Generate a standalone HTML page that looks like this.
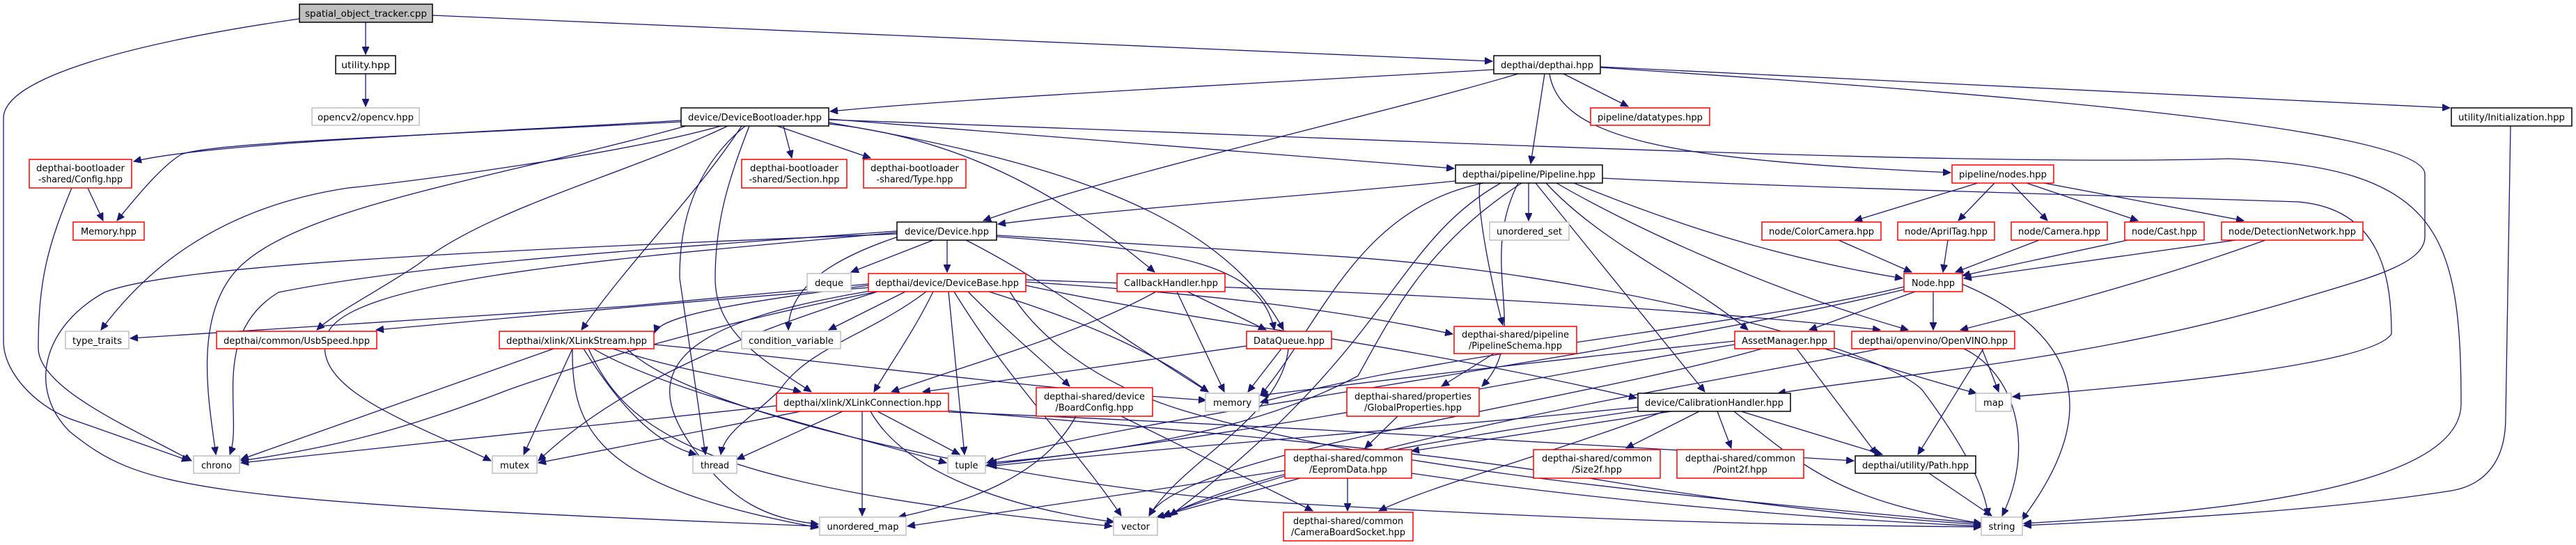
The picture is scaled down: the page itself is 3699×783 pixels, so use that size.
<!DOCTYPE html>
<html><head><meta charset="utf-8"><style>
html,body{margin:0;padding:0;background:#fff;}
svg{display:block;}
text{font-family:"DejaVu Sans","Liberation Sans",sans-serif;font-size:13.5px;fill:#000;}
.e{fill:none;stroke:#191970;stroke-width:1.3;marker-end:url(#a);}
.k{fill:#fff;stroke:#000;stroke-width:1.5;}
.r{fill:#fff;stroke:#ff0000;stroke-width:1.5;}
.g{fill:#fff;stroke:#bfbfbf;stroke-width:1.5;}
</style></head><body>
<svg width="3699" height="783" viewBox="0 0 3699 783" xmlns="http://www.w3.org/2000/svg">
<defs><marker id="a" markerUnits="userSpaceOnUse" markerWidth="12" markerHeight="10" refX="11" refY="5" orient="auto"><path d="M0,0 L11,5 L0,10 Z" fill="#191970" stroke="#191970"/></marker></defs>
<g>
<path class="e" d="M525 32 L525 78"/>
<path class="e" d="M621 22 L2143 88"/>
<path class="e" d="M430 27 C200 60 5 110 5 170 L5 490 C5 540 60 590 110 605 L272 662"/>
<path class="e" d="M525 106 L525 153"/>
<path class="e" d="M978 173 C700 190 300 205 192 232"/>
<path class="e" d="M978 175 C600 195 300 205 260 222 C230 240 190 290 168 317"/>
<path class="e" d="M1035 181 C900 220 600 260 500 270 C300 300 200 400 145 474"/>
<path class="e" d="M1045 181 C900 250 700 300 600 380 C540 420 480 450 455 474"/>
<path class="e" d="M1065 181 C1000 280 900 380 835 474"/>
<path class="e" d="M1070 181 C1010 230 975 300 976 400 L1013 653"/>
<path class="e" d="M1076 181 C1045 260 1027 320 1027 400 C1027 480 1100 520 1165 563"/>
<path class="e" d="M1125 181 L1137 227"/>
<path class="e" d="M1116 181 L1250 227"/>
<path class="e" d="M1190 178 C1400 200 1550 300 1658 391"/>
<path class="e" d="M1190 176 C1500 230 1750 300 1843 474"/>
<path class="e" d="M1190 171 L2088 242"/>
<path class="e" d="M1190 172 C2000 200 2800 240 3200 228 C3500 240 3534 330 3534 580 C3534 700 3200 735 2906 752"/>
<path class="e" d="M985 181 C700 260 400 300 330 400 C280 470 300 580 310 653"/>
<path class="e" d="M2145 100 C1800 120 1400 140 1192 160"/>
<path class="e" d="M2180 106 C2000 160 1600 250 1412 317"/>
<path class="e" d="M2218 106 L2198 235"/>
<path class="e" d="M2245 106 L2338 153"/>
<path class="e" d="M2225 106 C2240 200 2400 230 2801 248"/>
<path class="e" d="M2298 96 L3518 155"/>
<path class="e" d="M2298 97 C2800 130 3480 180 3482 250 L3482 340 C3482 380 3400 400 3300 430 C3000 520 2700 540 2553 565"/>
<path class="e" d="M1340 345 L1222 391"/>
<path class="e" d="M1360 345 L1360 391"/>
<path class="e" d="M1290 340 C1200 370 1132 410 1132 474"/>
<path class="e" d="M1387 345 C1497 400 1600 480 1735 563"/>
<path class="e" d="M1431 340 C1700 360 1810 380 1830 474"/>
<path class="e" d="M1431 338 L1900 367 C2300 390 2700 500 2760 560 C2820 640 2850 700 2855 741"/>
<path class="e" d="M1288 336 C700 360 250 380 150 420 C60 470 40 560 100 620 C200 700 260 720 1175 756"/>
<path class="e" d="M1288 332 C900 360 600 380 400 420 C300 480 350 600 330 653"/>
<path class="e" d="M1288 334 C900 370 500 400 470 480 C440 560 600 610 705 662"/>
<path class="e" d="M1300 419 L1190 474"/>
<path class="e" d="M1340 419 C1310 480 1280 520 1255 563"/>
<path class="e" d="M1247 410 C1100 430 950 450 940 478"/>
<path class="e" d="M1250 413 C900 440 700 460 540 474"/>
<path class="e" d="M1247 408 L900 440 L187 486"/>
<path class="e" d="M1260 419 C1100 450 900 500 730 560 C600 610 500 640 346 662"/>
<path class="e" d="M1330 419 C1250 480 1160 500 1120 560 C1080 600 1040 620 1035 653"/>
<path class="e" d="M1362 419 L1385 653"/>
<path class="e" d="M1370 419 C1450 550 1550 650 1610 741"/>
<path class="e" d="M1390 419 C1450 480 1500 520 1536 555"/>
<path class="e" d="M1420 419 C1550 460 1650 500 1735 563"/>
<path class="e" d="M1473 405 C1700 420 1900 440 2086 480"/>
<path class="e" d="M1473 402 C2000 420 2400 440 2700 474"/>
<path class="e" d="M1473 410 C1700 460 2000 490 2350 572"/>
<path class="e" d="M1450 419 C1500 500 1600 560 1700 590 C2000 680 2500 720 2845 752"/>
<path class="e" d="M1250 418 C1000 460 900 520 1000 650 C1050 720 1100 745 1175 753"/>
<path class="e" d="M1260 419 C1100 470 900 540 773 662"/>
<path class="e" d="M795 501 L346 660"/>
<path class="e" d="M822 501 L752 653"/>
<path class="e" d="M822 501 C820 620 860 700 1175 758"/>
<path class="e" d="M838 501 C900 600 950 640 1000 653"/>
<path class="e" d="M852 501 C950 560 1200 620 1359 665"/>
<path class="e" d="M880 501 C1000 540 1100 550 1150 563"/>
<path class="e" d="M939 495 C1200 520 1500 560 1732 575"/>
<path class="e" d="M900 501 C1000 600 1500 700 1800 720 C2300 750 2600 755 2845 757"/>
<path class="e" d="M845 501 C900 620 1000 700 1597 756"/>
<path class="e" d="M1210 591 L1058 660"/>
<path class="e" d="M1238 591 L1238 741"/>
<path class="e" d="M1260 591 L1378 653"/>
<path class="e" d="M1250 591 C1300 680 1450 730 1600 750"/>
<path class="e" d="M1115 583 L346 665"/>
<path class="e" d="M1150 591 L773 665"/>
<path class="e" d="M1362 590 C1600 610 2000 640 2300 690 C2600 740 2800 750 2845 754"/>
<path class="e" d="M1362 592 C1800 610 2300 640 2662 662"/>
<path class="e" d="M1660 419 C1550 480 1400 520 1280 563"/>
<path class="e" d="M1690 419 L1758 563"/>
<path class="e" d="M1705 419 L1818 474"/>
<path class="e" d="M1790 497 L1325 563"/>
<path class="e" d="M1840 501 L1792 563"/>
<path class="e" d="M1850 501 C1840 600 1700 660 1650 741"/>
<path class="e" d="M1545 598 C1500 680 1400 720 1290 743"/>
<path class="e" d="M1610 598 L1885 734"/>
<path class="e" d="M2090 260 C1900 280 1600 300 1433 322"/>
<path class="e" d="M2195 263 L2195 317"/>
<path class="e" d="M2125 263 C2120 300 2140 400 2158 467"/>
<path class="e" d="M2180 263 C2120 380 2200 480 2128 555"/>
<path class="e" d="M2220 263 C2300 350 2420 400 2510 474"/>
<path class="e" d="M2235 263 C2350 330 2550 420 2740 474"/>
<path class="e" d="M2260 263 C2400 320 2550 370 2732 400"/>
<path class="e" d="M2205 263 C2300 380 2380 480 2448 563"/>
<path class="e" d="M2301 256 C2600 270 3000 280 3300 290 C3420 300 3434 400 3434 480 C3400 530 3000 560 2890 570"/>
<path class="e" d="M2185 263 C2050 350 2000 450 1950 540 C1800 620 1600 650 1420 665"/>
<path class="e" d="M2130 263 C1950 300 1900 460 1810 568"/>
<path class="e" d="M2155 263 C2000 350 2000 500 1680 741"/>
<path class="e" d="M2840 263 L2663 317"/>
<path class="e" d="M2864 263 L2812 317"/>
<path class="e" d="M2888 263 L2940 317"/>
<path class="e" d="M2910 263 L3070 317"/>
<path class="e" d="M2935 263 L3222 317"/>
<path class="e" d="M2640 345 L2745 391"/>
<path class="e" d="M2797 345 L2790 391"/>
<path class="e" d="M2928 345 L2808 391"/>
<path class="e" d="M3055 345 L2818 396"/>
<path class="e" d="M3210 345 L2820 400"/>
<path class="e" d="M3253 345 C3100 400 2950 440 2815 474"/>
<path class="e" d="M2750 419 L2598 474"/>
<path class="e" d="M2776 419 L2776 474"/>
<path class="e" d="M2734 412 C2500 470 2100 500 1810 578"/>
<path class="e" d="M2817 408 C2972 473 3029 580 2903 747"/>
<path class="e" d="M2734 416 C2300 520 1600 600 1417 665"/>
<path class="e" d="M2580 501 L2695 653"/>
<path class="e" d="M2620 501 C2750 540 2800 555 2838 565"/>
<path class="e" d="M2491 490 C2200 520 2000 545 1810 568"/>
<path class="e" d="M2530 501 C2250 580 1700 650 1650 741"/>
<path class="e" d="M2491 495 C2200 540 1900 610 1417 668"/>
<path class="e" d="M2848 501 L2754 653"/>
<path class="e" d="M2846 501 L2870 563"/>
<path class="e" d="M2820 501 C2900 540 2920 650 2875 741"/>
<path class="e" d="M2700 501 C2400 560 2000 620 1670 741"/>
<path class="e" d="M2440 591 L2335 644"/>
<path class="e" d="M2466 591 L2486 644"/>
<path class="e" d="M2500 591 L2703 653"/>
<path class="e" d="M2400 591 L2027 648"/>
<path class="e" d="M2390 591 C2200 660 2050 700 1980 734"/>
<path class="e" d="M2490 591 C2600 680 2650 720 2845 752"/>
<path class="e" d="M2352 585 C2000 620 1700 640 1420 670"/>
<path class="e" d="M2352 590 C2000 640 1800 680 1670 743"/>
<path class="e" d="M2007 598 L1960 644"/>
<path class="e" d="M2145 508 L2070 555"/>
<path class="e" d="M1935 687 L1935 734"/>
<path class="e" d="M2027 680 C2300 720 2600 745 2845 756"/>
<path class="e" d="M1867 687 L1661 743"/>
<path class="e" d="M1845 676 L1303 756"/>
<path class="e" d="M2770 680 L2860 741"/>
<path class="e" d="M3605 181 L3598 600 C3598 680 3550 700 3520 705 C3300 740 3000 750 2906 755"/>
<path class="e" d="M103 270 C70 350 55 400 55 500 C55 560 200 620 275 662"/>
<path class="e" d="M126 270 L148 317"/>
</g>
<g>
<rect x="430" y="6" width="191" height="26" fill="#bfbfbf" stroke="#000" stroke-width="1.5"/>
<text x="525.5" y="24" text-anchor="middle" textLength="175" lengthAdjust="spacingAndGlyphs">spatial_object_tracker.cpp</text>
<rect class="k" x="482" y="80" width="86" height="26"/><text x="525" y="98" text-anchor="middle" textLength="70" lengthAdjust="spacingAndGlyphs">utility.hpp</text>
<rect class="g" x="448" y="155" width="154" height="25"/><text x="525" y="173" text-anchor="middle" textLength="138" lengthAdjust="spacingAndGlyphs">opencv2/opencv.hpp</text>
<rect class="r" x="42" y="229" width="147" height="41"/><text x="115.5" y="246" text-anchor="middle" textLength="127" lengthAdjust="spacingAndGlyphs">depthai-bootloader</text><text x="115.5" y="262" text-anchor="middle" textLength="121" lengthAdjust="spacingAndGlyphs">-shared/Config.hpp</text>
<rect class="r" x="105" y="319" width="102" height="26"/><text x="156" y="337" text-anchor="middle" textLength="80" lengthAdjust="spacingAndGlyphs">Memory.hpp</text>
<rect class="g" x="94" y="476" width="91" height="25"/><text x="139.5" y="494" text-anchor="middle" textLength="71" lengthAdjust="spacingAndGlyphs">type_traits</text>
<rect class="r" x="311" y="476" width="230" height="25"/><text x="426" y="494" text-anchor="middle" textLength="210" lengthAdjust="spacingAndGlyphs">depthai/common/UsbSpeed.hpp</text>
<rect class="r" x="717" y="476" width="222" height="25"/><text x="828" y="494" text-anchor="middle" textLength="202" lengthAdjust="spacingAndGlyphs">depthai/xlink/XLinkStream.hpp</text>
<rect class="g" x="278" y="655" width="66" height="25"/><text x="311" y="673" text-anchor="middle" textLength="44" lengthAdjust="spacingAndGlyphs">chrono</text>
<rect class="g" x="707" y="655" width="64" height="25"/><text x="739" y="673" text-anchor="middle" textLength="42" lengthAdjust="spacingAndGlyphs">mutex</text>
<rect class="k" x="978" y="155" width="212" height="26"/><text x="1084" y="173" text-anchor="middle" textLength="192" lengthAdjust="spacingAndGlyphs">device/DeviceBootloader.hpp</text>
<rect class="r" x="1065" y="229" width="151" height="41"/><text x="1140.5" y="246" text-anchor="middle" textLength="127" lengthAdjust="spacingAndGlyphs">depthai-bootloader</text><text x="1140.5" y="262" text-anchor="middle" textLength="130" lengthAdjust="spacingAndGlyphs">-shared/Section.hpp</text>
<rect class="r" x="1240" y="229" width="147" height="41"/><text x="1313.5" y="246" text-anchor="middle" textLength="127" lengthAdjust="spacingAndGlyphs">depthai-bootloader</text><text x="1313.5" y="262" text-anchor="middle" textLength="110" lengthAdjust="spacingAndGlyphs">-shared/Type.hpp</text>
<rect class="k" x="1288" y="319" width="143" height="26"/><text x="1359.5" y="337" text-anchor="middle" textLength="121" lengthAdjust="spacingAndGlyphs">device/Device.hpp</text>
<rect class="g" x="1159" y="393" width="63" height="26"/><text x="1190.5" y="411" text-anchor="middle" textLength="41" lengthAdjust="spacingAndGlyphs">deque</text>
<rect class="r" x="1247" y="393" width="226" height="26"/><text x="1360" y="411" text-anchor="middle" textLength="206" lengthAdjust="spacingAndGlyphs">depthai/device/DeviceBase.hpp</text>
<rect class="r" x="1604" y="393" width="155" height="26"/><text x="1681.5" y="411" text-anchor="middle" textLength="135" lengthAdjust="spacingAndGlyphs">CallbackHandler.hpp</text>
<rect class="g" x="1065" y="476" width="142" height="25"/><text x="1136" y="494" text-anchor="middle" textLength="122" lengthAdjust="spacingAndGlyphs">condition_variable</text>
<rect class="r" x="1790" y="476" width="122" height="25"/><text x="1851" y="494" text-anchor="middle" textLength="102" lengthAdjust="spacingAndGlyphs">DataQueue.hpp</text>
<rect class="r" x="1115" y="565" width="247" height="26"/><text x="1238.5" y="583" text-anchor="middle" textLength="227" lengthAdjust="spacingAndGlyphs">depthai/xlink/XLinkConnection.hpp</text>
<rect class="r" x="1488" y="557" width="167" height="41"/><text x="1571.5" y="574" text-anchor="middle" textLength="145" lengthAdjust="spacingAndGlyphs">depthai-shared/device</text><text x="1571.5" y="590" text-anchor="middle" textLength="112" lengthAdjust="spacingAndGlyphs">/BoardConfig.hpp</text>
<rect class="g" x="1731" y="565" width="77" height="26"/><text x="1769.5" y="583" text-anchor="middle" textLength="55" lengthAdjust="spacingAndGlyphs">memory</text>
<rect class="g" x="995" y="655" width="63" height="25"/><text x="1026.5" y="673" text-anchor="middle" textLength="41" lengthAdjust="spacingAndGlyphs">thread</text>
<rect class="g" x="1361" y="655" width="54" height="25"/><text x="1388" y="673" text-anchor="middle" textLength="33" lengthAdjust="spacingAndGlyphs">tuple</text>
<rect class="g" x="1177" y="743" width="124" height="26"/><text x="1239" y="761" text-anchor="middle" textLength="103" lengthAdjust="spacingAndGlyphs">unordered_map</text>
<rect class="g" x="1599" y="743" width="63" height="26"/><text x="1630.5" y="761" text-anchor="middle" textLength="41" lengthAdjust="spacingAndGlyphs">vector</text>
<rect class="r" x="1845" y="646" width="182" height="41"/><text x="1936" y="663" text-anchor="middle" textLength="158" lengthAdjust="spacingAndGlyphs">depthai-shared/common</text><text x="1936" y="679" text-anchor="middle" textLength="112" lengthAdjust="spacingAndGlyphs">/EepromData.hpp</text>
<rect class="r" x="1843" y="736" width="186" height="41"/><text x="1936" y="753" text-anchor="middle" textLength="158" lengthAdjust="spacingAndGlyphs">depthai-shared/common</text><text x="1936" y="769" text-anchor="middle" textLength="164" lengthAdjust="spacingAndGlyphs">/CameraBoardSocket.hpp</text>
<rect class="k" x="2145" y="80" width="153" height="26"/><text x="2221.5" y="98" text-anchor="middle" textLength="133" lengthAdjust="spacingAndGlyphs">depthai/depthai.hpp</text>
<rect class="r" x="2284" y="155" width="171" height="25"/><text x="2369.5" y="173" text-anchor="middle" textLength="151" lengthAdjust="spacingAndGlyphs">pipeline/datatypes.hpp</text>
<rect class="k" x="2090" y="237" width="211" height="26"/><text x="2195.5" y="255" text-anchor="middle" textLength="191" lengthAdjust="spacingAndGlyphs">depthai/pipeline/Pipeline.hpp</text>
<rect class="r" x="2803" y="237" width="146" height="26"/><text x="2876" y="255" text-anchor="middle" textLength="126" lengthAdjust="spacingAndGlyphs">pipeline/nodes.hpp</text>
<rect class="g" x="2139" y="319" width="114" height="26"/><text x="2196" y="337" text-anchor="middle" textLength="94" lengthAdjust="spacingAndGlyphs">unordered_set</text>
<rect class="r" x="2530" y="319" width="171" height="26"/><text x="2615.5" y="337" text-anchor="middle" textLength="151" lengthAdjust="spacingAndGlyphs">node/ColorCamera.hpp</text>
<rect class="r" x="2725" y="319" width="139" height="26"/><text x="2794.5" y="337" text-anchor="middle" textLength="119" lengthAdjust="spacingAndGlyphs">node/AprilTag.hpp</text>
<rect class="r" x="2888" y="319" width="138" height="26"/><text x="2957" y="337" text-anchor="middle" textLength="118" lengthAdjust="spacingAndGlyphs">node/Camera.hpp</text>
<rect class="r" x="3051" y="319" width="114" height="26"/><text x="3108" y="337" text-anchor="middle" textLength="94" lengthAdjust="spacingAndGlyphs">node/Cast.hpp</text>
<rect class="r" x="3190" y="319" width="203" height="26"/><text x="3291.5" y="337" text-anchor="middle" textLength="183" lengthAdjust="spacingAndGlyphs">node/DetectionNetwork.hpp</text>
<rect class="k" x="3520" y="155" width="173" height="26"/><text x="3606.5" y="173" text-anchor="middle" textLength="153" lengthAdjust="spacingAndGlyphs">utility/Initialization.hpp</text>
<rect class="r" x="2734" y="393" width="84" height="26"/><text x="2776" y="411" text-anchor="middle" textLength="62" lengthAdjust="spacingAndGlyphs">Node.hpp</text>
<rect class="r" x="2088" y="469" width="176" height="39"/><text x="2176" y="485" text-anchor="middle" textLength="154" lengthAdjust="spacingAndGlyphs">depthai-shared/pipeline</text><text x="2176" y="501" text-anchor="middle" textLength="134" lengthAdjust="spacingAndGlyphs">/PipelineSchema.hpp</text>
<rect class="r" x="2491" y="476" width="143" height="25"/><text x="2562.5" y="494" text-anchor="middle" textLength="123" lengthAdjust="spacingAndGlyphs">AssetManager.hpp</text>
<rect class="r" x="2659" y="476" width="234" height="25"/><text x="2776" y="494" text-anchor="middle" textLength="214" lengthAdjust="spacingAndGlyphs">depthai/openvino/OpenVINO.hpp</text>
<rect class="r" x="1934" y="557" width="190" height="41"/><text x="2029" y="574" text-anchor="middle" textLength="168" lengthAdjust="spacingAndGlyphs">depthai-shared/properties</text><text x="2029" y="590" text-anchor="middle" textLength="140" lengthAdjust="spacingAndGlyphs">/GlobalProperties.hpp</text>
<rect class="k" x="2352" y="565" width="219" height="26"/><text x="2461.5" y="583" text-anchor="middle" textLength="199" lengthAdjust="spacingAndGlyphs">device/CalibrationHandler.hpp</text>
<rect class="r" x="2202" y="646" width="182" height="41"/><text x="2293" y="663" text-anchor="middle" textLength="158" lengthAdjust="spacingAndGlyphs">depthai-shared/common</text><text x="2293" y="679" text-anchor="middle" textLength="72" lengthAdjust="spacingAndGlyphs">/Size2f.hpp</text>
<rect class="r" x="2408" y="646" width="182" height="41"/><text x="2499" y="663" text-anchor="middle" textLength="158" lengthAdjust="spacingAndGlyphs">depthai-shared/common</text><text x="2499" y="679" text-anchor="middle" textLength="78" lengthAdjust="spacingAndGlyphs">/Point2f.hpp</text>
<rect class="k" x="2664" y="655" width="173" height="25"/><text x="2750.5" y="673" text-anchor="middle" textLength="153" lengthAdjust="spacingAndGlyphs">depthai/utility/Path.hpp</text>
<rect class="g" x="2837" y="565" width="51" height="26"/><text x="2862.5" y="583" text-anchor="middle" textLength="29" lengthAdjust="spacingAndGlyphs">map</text>
<rect class="g" x="2845" y="743" width="59" height="26"/><text x="2874.5" y="761" text-anchor="middle" textLength="38" lengthAdjust="spacingAndGlyphs">string</text>
</g>
</svg>
</body></html>
